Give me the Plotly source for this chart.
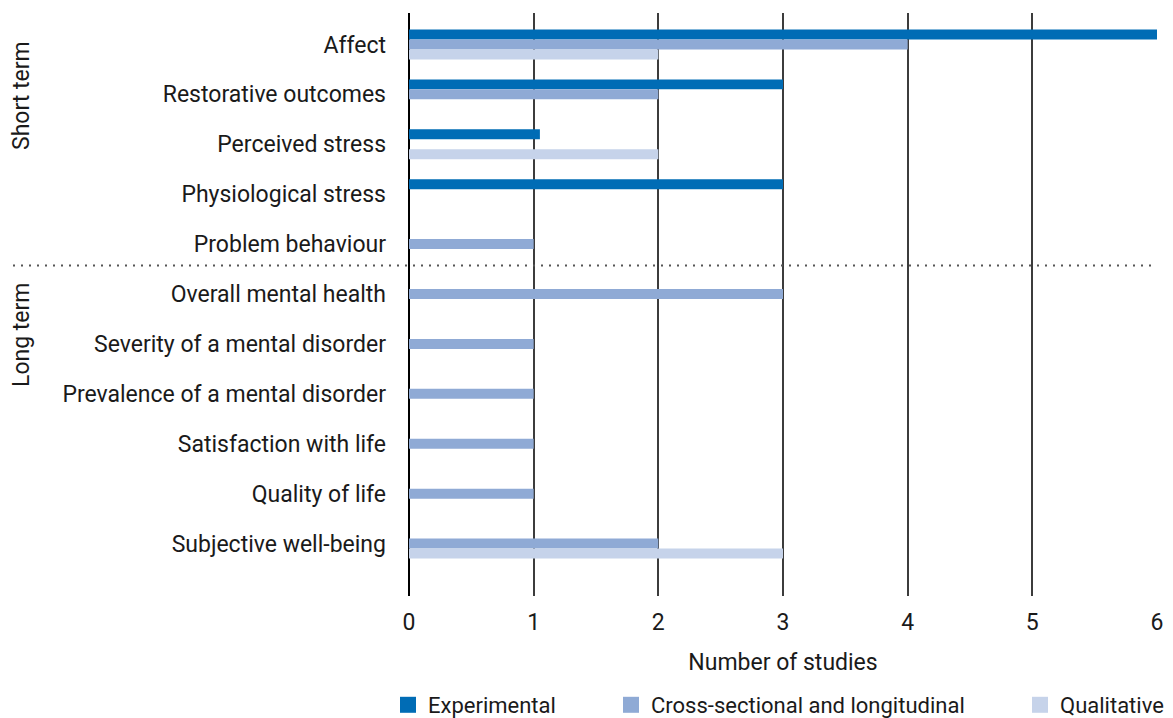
import plotly.graph_objects as go

categories = [
    "Affect", "Restorative outcomes", "Perceived stress", "Physiological stress",
    "Problem behaviour", "Overall mental health", "Severity of a mental disorder",
    "Prevalence of a mental disorder", "Satisfaction with life", "Quality of life",
    "Subjective well-being",
]
experimental = [6, 3, 1.05, 3, None, None, None, None, None, None, None]
cross_long = [4, 2, None, None, 1, 3, 1, 1, 1, 1, 2]
qualitative = [2, None, 2, None, None, None, None, None, None, None, 3]
x_ticks = [0, 1, 2, 3, 4, 5, 6]

FONT = "Roboto"
FS = 23
TXT = "#1a1a1a"
OFF = 8  # page body margin
W, H = 1173 - OFF, 718 - OFF
L, R, T, B = 409 - OFF, 16, 13 - OFF, 122
pw = W - L - R
ph = H - T - B

def px_x(x):
    return (x - OFF - L) / pw

def px_y(y):
    return (H - B - (y - OFF)) / ph

fig = go.Figure()
series = [
    ("Experimental", experimental, "#006cb5", "legend", 428),
    ("Cross-sectional and longitudinal", cross_long, "#8faad5", "legend2", 651),
    ("Qualitative", qualitative, "#c6d3ea", "legend3", 1060),
]
for name, vals, col, lg, _ in series:
    fig.add_trace(go.Bar(
        y=categories, x=vals, name=name, orientation="h",
        marker=dict(color=col, line=dict(width=0)), showlegend=False,
    ))
    fig.add_trace(go.Scatter(
        x=[None], y=[None], mode="markers", name=name, legend=lg,
        marker=dict(symbol="square", size=16, color=col, line=dict(width=0)),
        hoverinfo="skip",
    ))

legend_common = dict(orientation="h", yanchor="middle", xanchor="left",
                     xref="container", yref="container",
                     font=dict(family=FONT, size=22, color=TXT),
                     bgcolor="rgba(0,0,0,0)", borderwidth=0)
layout_legends = {}
for name, vals, col, lg, tx in series:
    layout_legends[lg] = dict(x=(tx - 40 - OFF) / W, y=1 - (705 - OFF) / H, **legend_common)

fig.update_layout(
    width=W, height=H,
    margin=dict(l=L, r=R, t=T, b=B, autoexpand=False),
    paper_bgcolor="white", plot_bgcolor="white",
    barmode="group", bargap=0.4, bargroupgap=0,
    font=dict(family=FONT, size=FS, color=TXT),
    showlegend=True,
    **layout_legends,
)
fig.update_xaxes(
    range=[0, 6], tickvals=x_ticks, showgrid=True, gridcolor="#3c3c3c", gridwidth=1.5,
    zeroline=True, zerolinecolor="#000000", zerolinewidth=2, showline=False,
    ticks="", ticklabelstandoff=10, automargin=False,
    tickfont=dict(family=FONT, size=FS, color=TXT),
    title=dict(text="Number of studies", standoff=18,
               font=dict(family=FONT, size=FS, color=TXT)),
)
fig.update_yaxes(
    type="category", categoryorder="array", categoryarray=categories,
    range=[11.05, -0.63], showgrid=False, zeroline=False, showline=False,
    ticks="", ticklabelstandoff=22, automargin=False,
    tickfont=dict(family=FONT, size=FS, color=TXT),
)

fig.add_shape(type="line", xref="paper", yref="y", x0=px_x(5), x1=1.0, y0=4.43, y1=4.43,
              line=dict(color="#555555", width=2, dash="2px,6px"))

for text, yc in [("Short term", 96), ("Long term", 335)]:
    fig.add_annotation(text=text, xref="paper", yref="paper", x=px_x(21), y=px_y(yc),
                       textangle=-90, showarrow=False, xanchor="center", yanchor="middle",
                       font=dict(family=FONT, size=FS, color=TXT))

fig.write_html("out.html")
